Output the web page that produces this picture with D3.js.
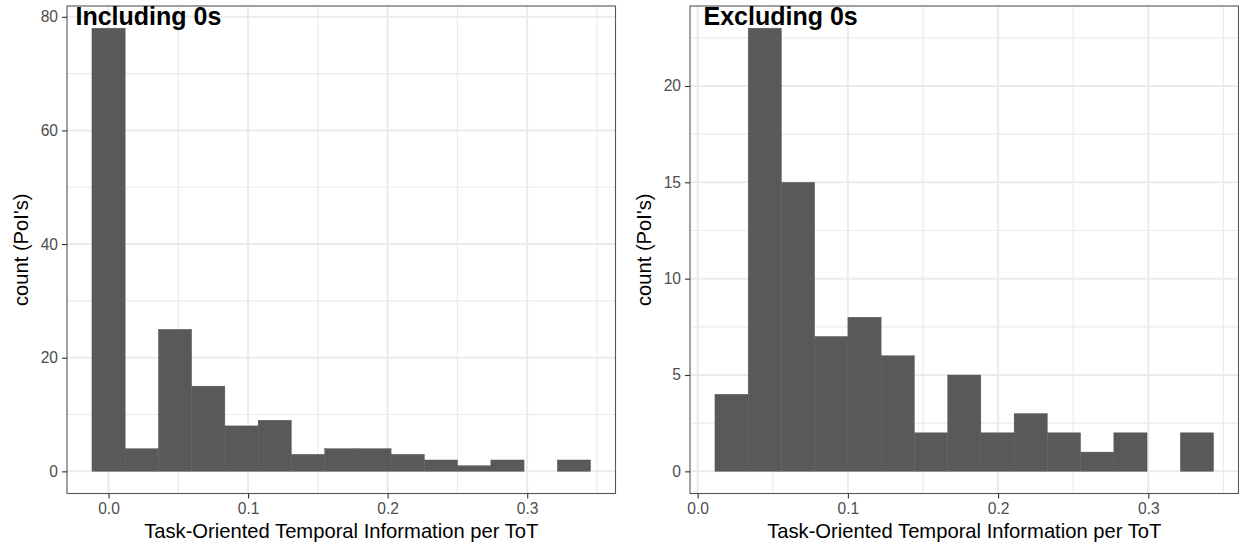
<!DOCTYPE html>
<html>
<head>
<meta charset="utf-8">
<script src="https://cdn.jsdelivr.net/npm/d3@7"></script>
<style>
  html, body { margin: 0; padding: 0; background: #fff; }
  svg { display: block; font-family: "Liberation Sans", Arial, sans-serif; }
</style>
</head>
<body>
<svg id="chart" width="1239" height="548"></svg>
<script>
// Histogram counts per bin (15 equal-width bins each)
const includingCounts = [78, 4, 25, 15, 8, 9, 3, 4, 4, 3, 2, 1, 2, 0, 2];
const excludingCounts = [4, 23, 15, 7, 8, 6, 2, 5, 2, 3, 2, 1, 2, 0, 2];

// Bin layout: left edge of first bin and bin width
const includingBins = { start: -0.0119, width: 0.02382 };
const excludingBins = { start: 0.0115, width: 0.02213 };

// Axis breaks
const xTicks = [0.0, 0.1, 0.2, 0.3];
const xMinorTicks = [0.05, 0.15, 0.25, 0.35];
const includingYTicks = [0, 20, 40, 60, 80];
const includingYMinor = [10, 30, 50, 70];
const excludingYTicks = [0, 5, 10, 15, 20];
const excludingYMinor = [2.5, 7.5, 12.5, 17.5, 22.5];

const titles = ["Including 0s", "Excluding 0s"];
const xLabel = "Task-Oriented Temporal Information per ToT";
const yLabel = "count (PoI's)";

const svg = d3.select("#chart");
const panelTop = 6, panelBottom = 493.5;

function drawPanel(opts) {
  const { counts, bins, yTicks, yMinor, left, right, title, titleX, ylabX } = opts;
  const binsData = counts.map((c, i) => ({
    x0: bins.start + i * bins.width,
    x1: bins.start + (i + 1) * bins.width,
    count: c
  }));
  const xMin = bins.start, xMax = bins.start + counts.length * bins.width;
  const xPad = (xMax - xMin) * 0.05;
  const yMax = d3.max(counts), yPad = yMax * 0.05;

  const x = d3.scaleLinear().domain([xMin - xPad, xMax + xPad]).range([left, right]);
  const y = d3.scaleLinear().domain([-yPad, yMax + yPad]).range([panelBottom, panelTop]);

  const g = svg.append("g");

  // minor grid
  g.selectAll(".xminor").data(xMinorTicks.filter(v => v >= x.domain()[0] && v <= x.domain()[1]))
    .join("line").attr("x1", d => x(d)).attr("x2", d => x(d))
    .attr("y1", panelTop).attr("y2", panelBottom)
    .attr("stroke", "#EBEBEB").attr("stroke-width", 1.2);
  g.selectAll(".yminor").data(yMinor.filter(v => v >= y.domain()[0] && v <= y.domain()[1]))
    .join("line").attr("y1", d => y(d)).attr("y2", d => y(d))
    .attr("x1", left).attr("x2", right)
    .attr("stroke", "#EBEBEB").attr("stroke-width", 1.2);
  // major grid
  g.selectAll(".xmajor").data(xTicks)
    .join("line").attr("x1", d => x(d)).attr("x2", d => x(d))
    .attr("y1", panelTop).attr("y2", panelBottom)
    .attr("stroke", "#EBEBEB").attr("stroke-width", 2);
  g.selectAll(".ymajor").data(yTicks)
    .join("line").attr("y1", d => y(d)).attr("y2", d => y(d))
    .attr("x1", left).attr("x2", right)
    .attr("stroke", "#EBEBEB").attr("stroke-width", 2);

  // bars
  g.selectAll(".bar").data(binsData.filter(d => d.count > 0))
    .join("rect")
    .attr("x", d => x(d.x0))
    .attr("width", d => x(d.x1) - x(d.x0))
    .attr("y", d => y(d.count))
    .attr("height", d => y(0) - y(d.count))
    .attr("fill", "#595959")
    .attr("stroke", "#595959").attr("stroke-width", 0.4);

  // panel border
  g.append("rect")
    .attr("x", left).attr("y", panelTop)
    .attr("width", right - left).attr("height", panelBottom - panelTop)
    .attr("fill", "none").attr("stroke", "#555").attr("stroke-width", 1.1);

  // axes
  const xAxis = d3.axisBottom(x).tickValues(xTicks).tickFormat(d3.format(".1f"))
    .tickSize(5).tickPadding(4);
  const gx = g.append("g").attr("transform", `translate(0,${panelBottom})`).call(xAxis);
  const yAxis = d3.axisLeft(y).tickValues(yTicks).tickFormat(d3.format("d"))
    .tickSize(5).tickPadding(4);
  const gy = g.append("g").attr("transform", `translate(${left},0)`).call(yAxis);
  [gx, gy].forEach(a => {
    a.select(".domain").remove();
    a.selectAll(".tick line").attr("stroke", "#333").attr("stroke-width", 1.1);
    a.selectAll(".tick text").attr("fill", "#4D4D4D")
      .style("font-size", "15.6px").style("font-family", "'Liberation Sans', Arial, sans-serif");
  });

  // axis titles
  g.append("text")
    .attr("x", (left + right) / 2).attr("y", 538)
    .attr("text-anchor", "middle")
    .style("font-size", "20.2px").attr("fill", "#000")
    .text(xLabel);
  g.append("text")
    .attr("transform", `translate(${ylabX},${(panelTop + panelBottom) / 2}) rotate(-90)`)
    .attr("text-anchor", "middle")
    .style("font-size", "20.2px").attr("fill", "#000")
    .text(yLabel);

  // panel title
  g.append("text")
    .attr("x", titleX).attr("y", 25)
    .style("font-size", "25px").style("font-weight", "bold").attr("fill", "#000")
    .text(title);
}

drawPanel({
  counts: includingCounts, bins: includingBins,
  yTicks: includingYTicks, yMinor: includingYMinor,
  left: 67, right: 615.5, title: titles[0], titleX: 75.5, ylabX: 28
});
drawPanel({
  counts: excludingCounts, bins: excludingBins,
  yTicks: excludingYTicks, yMinor: excludingYMinor,
  left: 690, right: 1238.5, title: titles[1], titleX: 703.5, ylabX: 651
});
</script>
</body>
</html>
